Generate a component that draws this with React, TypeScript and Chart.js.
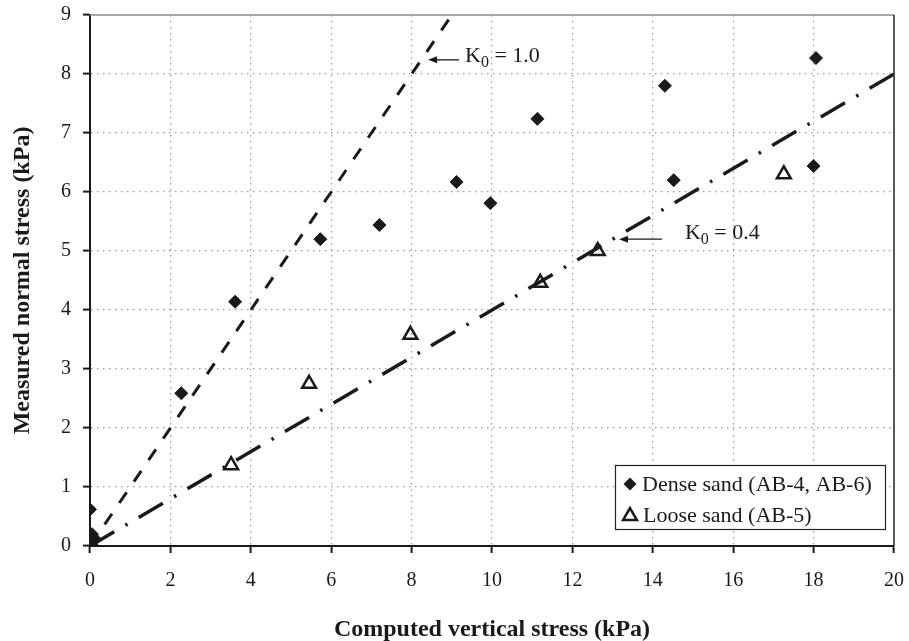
import { useEffect, useRef } from "react";
import { Chart, registerables } from "chart.js";

Chart.register(...registerables);

// Dense sand (AB-4, AB-6): computed vertical stress vs measured normal stress, kPa
const denseX = [0, 0.05, 0.12, 0, 2.27, 3.61, 5.73, 7.2, 9.12, 9.96, 11.13, 14.3, 14.52, 18.06, 18.0];
const denseY = [0.62, 0.2, 0.12, 0.02, 2.59, 4.14, 5.2, 5.44, 6.17, 5.81, 7.24, 7.8, 6.2, 8.27, 6.44];

// Loose sand (AB-5)
const looseX = [0, 0.05, 3.51, 5.45, 7.97, 11.2, 12.63, 17.26];
const looseY = [0, 0.03, 1.37, 2.75, 3.58, 4.46, 5.0, 6.3];

// Earth-pressure coefficient reference lines: sigma_h = K0 * sigma_v
const k0Values = [1.0, 0.4];
const k0EndX = [10, 20];

// Axis ranges and tick steps
const xRange = [0, 20];
const yRange = [0, 9];
const xStep = 2;
const yStep = 1;

// Callout labels for the two K0 lines (data units)
const k0LabelText = ["1.0", "0.4"];
const k0LabelAt = [
  [9.33, 8.2],
  [14.8, 5.2],
];
const k0ArrowTail = [
  [9.18, 8.24],
  [14.23, 5.2],
];
const k0ArrowTip = [
  [8.41, 8.24],
  [13.16, 5.2],
];

const legendLabels = ["Dense sand (AB-4, AB-6)", "Loose sand (AB-5)"];

const SERIF = '"Liberation Serif", "Times New Roman", Times, serif';
const INK = "#1a1a1a";

const toPoints = (xs: number[], ys: number[]) => xs.map((x, i) => ({ x, y: ys[i] }));

const overlayPlugin = {
  id: "overlay",
  afterDraw(chart: any) {
    const { ctx, chartArea: a, scales } = chart;
    const sx = scales.x;
    const sy = scales.y;
    ctx.save();

    // top and right frame
    ctx.setLineDash([]);
    ctx.lineWidth = 1.5;
    ctx.strokeStyle = "#8c8c8c";
    ctx.beginPath();
    ctx.moveTo(a.left, a.top);
    ctx.lineTo(a.right, a.top);
    ctx.stroke();
    ctx.strokeStyle = "#222";
    ctx.beginPath();
    ctx.moveTo(a.right, a.top);
    ctx.lineTo(a.right, a.bottom);
    ctx.stroke();

    // K0 callouts: arrow + "K0 = value"
    for (let i = 0; i < k0Values.length; i++) {
      const tx = sx.getPixelForValue(k0ArrowTail[i][0]);
      const ty = sy.getPixelForValue(k0ArrowTail[i][1]);
      const hx = sx.getPixelForValue(k0ArrowTip[i][0]);
      const hy = sy.getPixelForValue(k0ArrowTip[i][1]);
      ctx.strokeStyle = INK;
      ctx.fillStyle = INK;
      ctx.lineWidth = 1.3;
      ctx.beginPath();
      ctx.moveTo(tx, ty);
      ctx.lineTo(hx + 6, hy);
      ctx.stroke();
      ctx.beginPath();
      ctx.moveTo(hx, hy);
      ctx.lineTo(hx + 9, hy - 3.5);
      ctx.lineTo(hx + 9, hy + 3.5);
      ctx.closePath();
      ctx.fill();

      const lx = sx.getPixelForValue(k0LabelAt[i][0]);
      const ly = sy.getPixelForValue(k0LabelAt[i][1]);
      ctx.textAlign = "left";
      ctx.textBaseline = "alphabetic";
      ctx.font = `22px ${SERIF}`;
      ctx.fillText("K", lx, ly);
      const kw = ctx.measureText("K").width;
      ctx.font = `16px ${SERIF}`;
      ctx.fillText("0", lx + kw, ly + 5);
      const zw = ctx.measureText("0").width;
      ctx.font = `22px ${SERIF}`;
      ctx.fillText(" = " + k0LabelText[i], lx + kw + zw, ly);
    }

    // legend box
    const bw = 270;
    const bh = 64;
    const bx = a.right - 9 - bw;
    const by = a.bottom - 17 - bh;
    ctx.fillStyle = "#fff";
    ctx.fillRect(bx, by, bw, bh);
    ctx.strokeStyle = "#222";
    ctx.lineWidth = 1.2;
    ctx.strokeRect(bx + 0.5, by + 0.5, bw, bh);

    const mx = bx + 15;
    const row1 = by + 19;
    const row2 = by + 50;
    // diamond
    ctx.fillStyle = INK;
    ctx.beginPath();
    ctx.moveTo(mx, row1 - 6.5);
    ctx.lineTo(mx + 6.5, row1);
    ctx.lineTo(mx, row1 + 6.5);
    ctx.lineTo(mx - 6.5, row1);
    ctx.closePath();
    ctx.fill();
    // open triangle
    ctx.strokeStyle = INK;
    ctx.lineWidth = 2.5;
    const r = 8;
    ctx.beginPath();
    ctx.moveTo(mx, row2 - r + 1);
    ctx.lineTo(mx + r * 0.866, row2 + r / 2 + 1);
    ctx.lineTo(mx - r * 0.866, row2 + r / 2 + 1);
    ctx.closePath();
    ctx.stroke();

    ctx.fillStyle = INK;
    ctx.font = `22px ${SERIF}`;
    ctx.textBaseline = "middle";
    ctx.fillText(legendLabels[0], bx + 27, row1 + 1);
    ctx.fillText(legendLabels[1], bx + 28, row2 + 1);

    ctx.restore();
  },
};

const edgeTransparent = (lo: number, hi: number) => (c: any) =>
  c.tick && (c.tick.value === lo || c.tick.value === hi) ? "rgba(0,0,0,0)" : "#9a9a9a";

export default function App() {
  const canvasRef = useRef<HTMLCanvasElement | null>(null);

  useEffect(() => {
    if (!canvasRef.current) return;
    document.body.style.background = "#fff";

    const lineDatasets = k0Values.map((k, i) => ({
      type: "line" as const,
      label: `K0 = ${k}`,
      data: [
        { x: 0, y: 0 },
        { x: k0EndX[i], y: k * k0EndX[i] },
      ],
      borderColor: INK,
      borderWidth: i === 0 ? 3 : 3.5,
      borderDash: i === 0 ? [13, 13] : [28, 13, 2.5, 13],
      borderCapStyle: "butt" as const,
      pointRadius: 0,
      fill: false,
      showLine: true,
    }));

    const chart = new Chart(canvasRef.current, {
      type: "scatter",
      data: {
        datasets: [
          ...lineDatasets,
          {
            label: legendLabels[0],
            data: toPoints(denseX, denseY),
            pointStyle: "rectRot",
            pointRadius: 6.5,
            pointBackgroundColor: INK,
            pointBorderColor: INK,
            pointBorderWidth: 1,
          },
          {
            label: legendLabels[1],
            data: toPoints(looseX, looseY),
            pointStyle: "triangle",
            pointRadius: 8,
            pointBackgroundColor: "rgba(0,0,0,0)",
            pointBorderColor: INK,
            pointBorderWidth: 2.5,
          },
        ] as any,
      },
      options: {
        animation: false,
        responsive: false,
        layout: { padding: { left: 0, right: 15, top: 15, bottom: 0 } },
        plugins: { legend: { display: false }, tooltip: { enabled: false } },
        scales: {
          x: {
            type: "linear",
            min: xRange[0],
            max: xRange[1],
            ticks: {
              stepSize: xStep,
              padding: 16,
              maxRotation: 0,
              color: INK,
              font: { family: SERIF, size: 20 },
            },
            grid: {
              color: edgeTransparent(xRange[0], xRange[1]),
              lineWidth: 1.2,
              tickLength: 7,
              tickColor: INK,
              tickWidth: 2,
            },
            border: { color: INK, width: 2, dash: [1.5, 4.5] },
            title: {
              display: true,
              text: "Computed vertical stress (kPa)",
              color: INK,
              font: { family: SERIF, size: 24, weight: "bold", lineHeight: 1 },
              padding: { top: 0, bottom: -1 },
            },
            afterFit: (s: any) => {
              s.height = 95;
              s.paddingLeft = 0;
              s.paddingRight = 0;
            },
          },
          y: {
            type: "linear",
            min: yRange[0],
            max: yRange[1],
            ticks: {
              stepSize: yStep,
              padding: 12,
              color: INK,
              font: { family: SERIF, size: 20 },
            },
            grid: {
              color: edgeTransparent(yRange[0], yRange[1]),
              lineWidth: 1.2,
              tickLength: 7,
              tickColor: INK,
              tickWidth: 2,
            },
            border: { color: INK, width: 2, dash: [1.5, 4.5] },
            title: {
              display: true,
              text: "Measured normal stress (kPa)",
              color: INK,
              font: { family: SERIF, size: 24, weight: "bold", lineHeight: 1 },
              padding: { top: 11, bottom: 0 },
            },
            afterFit: (s: any) => {
              s.width = 90;
              s.paddingTop = 0;
              s.paddingBottom = 0;
            },
          },
        },
      } as any,
      plugins: [overlayPlugin],
    });

    return () => chart.destroy();
  }, []);

  return (
    <div style={{ position: "absolute", left: 0, top: 0, width: 909, height: 641 }}>
      <canvas ref={canvasRef} width={909} height={641} style={{ display: "block" }} />
    </div>
  );
}
